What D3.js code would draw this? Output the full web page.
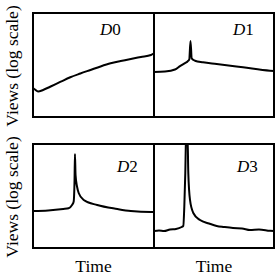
<!DOCTYPE html>
<html><head><meta charset="utf-8">
<script src="https://cdn.jsdelivr.net/npm/d3@7"></script>
<style>html,body{margin:0;padding:0;background:#fff;}svg{display:block;}</style>
</head><body>
<svg id="c" width="275" height="275"></svg>
<script>
// ---- data: time index (0..120) and log10 views ----
const panelNames = ["D0", "D1", "D2", "D3"];
const xLabel = "Time";
const yLabel = "Views (log scale)";

const d0Time = [0, 2, 5, 10, 17, 27, 37, 47, 57, 67, 77, 87, 97, 107, 117, 120];
const d0Views = [2.79, 2.64, 2.45, 2.60, 2.91, 3.37, 3.82, 4.18, 4.52, 4.86, 5.16, 5.38, 5.58, 5.77, 5.96, 6.11];

const d1Time = [0, 11, 21, 26, 31, 33.5, 35.3, 36.5, 37.7, 41, 49, 62.7, 89, 116, 121];
const d1Views = [4.33, 4.38, 4.57, 4.90, 5.19, 5.34, 5.55, 7.31, 5.64, 5.41, 5.26, 5.10, 4.78, 4.45, 4.42];

const d2Time = [0, 15, 30, 35.3, 38.7, 40.3, 41.2, 41.6, 42.2, 43.7, 45.3, 50.3, 63.7, 83.7, 97, 117, 121];
const d2Views = [3.56, 3.61, 3.75, 3.82, 4.13, 4.45, 6.54, 9.04, 7.02, 5.89, 5.29, 4.62, 4.13, 3.75, 3.56, 3.46, 3.46];

const d3Time = [0, 5, 10, 16, 22, 27.7, 29.3, 30.3, 31.3, 32, 33.5, 34.3, 36, 39.3, 46, 55, 62.7, 70, 79, 88, 96, 105, 116, 121];
const d3Views = [1.63, 1.68, 1.63, 1.78, 1.83, 2.02, 2.12, 3.97, 7.21, 10.38, 10.87, 7.21, 4.62, 3.37, 2.69, 2.36, 2.12, 2.02, 1.92, 1.88, 1.73, 1.78, 1.66, 1.63];

const seriesTime = [d0Time, d1Time, d2Time, d3Time];
const seriesViews = [d0Views, d1Views, d2Views, d3Views];

// ---- layout ----
const svg = d3.select("#c");
const colX = [[33, 154], [154, 274]];
const rowY = [[13, 117], [144, 248]];
const labelPos = [[100, 35], [233, 35], [117, 172], [237, 172]];
const font = "'Liberation Serif', 'Times New Roman', serif";

panelNames.forEach((name, i) => {
  const col = i % 2, row = Math.floor(i / 2);
  const x = d3.scaleLinear().domain([0, 120]).range(colX[col]);
  const y = d3.scaleLinear().domain([0, 10]).range([rowY[row][1], rowY[row][0]]);
  const cid = "clip" + i;
  svg.append("clipPath").attr("id", cid).append("rect")
    .attr("x", colX[col][0]).attr("y", rowY[row][0])
    .attr("width", colX[col][1] - colX[col][0]).attr("height", rowY[row][1] - rowY[row][0]);
  const pts = seriesTime[i].map((t, k) => [t, seriesViews[i][k]]);
  const line = d3.line().x(d => x(d[0])).y(d => y(d[1])).curve(d3.curveMonotoneX);
  svg.append("path").attr("d", line(pts)).attr("clip-path", `url(#${cid})`)
    .attr("fill", "none").attr("stroke", "#000").attr("stroke-width", 2)
    .attr("stroke-linejoin", "round");
  svg.append("rect")
    .attr("x", colX[col][0]).attr("y", rowY[row][0])
    .attr("width", colX[col][1] - colX[col][0]).attr("height", rowY[row][1] - rowY[row][0])
    .attr("fill", "none").attr("stroke", "#000").attr("stroke-width", 2);
  const t = svg.append("text").attr("x", labelPos[i][0]).attr("y", labelPos[i][1])
    .attr("font-family", font).attr("font-size", 17).attr("fill", "#000");
  t.append("tspan").attr("font-style", "italic").text(name[0]);
  t.append("tspan").text(name.slice(1));
});

// axis titles
colX.forEach(c => {
  svg.append("text").attr("x", (c[0] + c[1]) / 2).attr("y", 272)
    .attr("text-anchor", "middle").attr("font-family", font).attr("font-size", 17.5)
    .text(xLabel);
});
rowY.forEach(r => {
  svg.append("text").attr("transform", `translate(18,${(r[0] + r[1]) / 2 + 1}) rotate(-90)`)
    .attr("text-anchor", "middle").attr("font-family", font).attr("font-size", 17.5)
    .text(yLabel);
});
</script>
</body></html>
